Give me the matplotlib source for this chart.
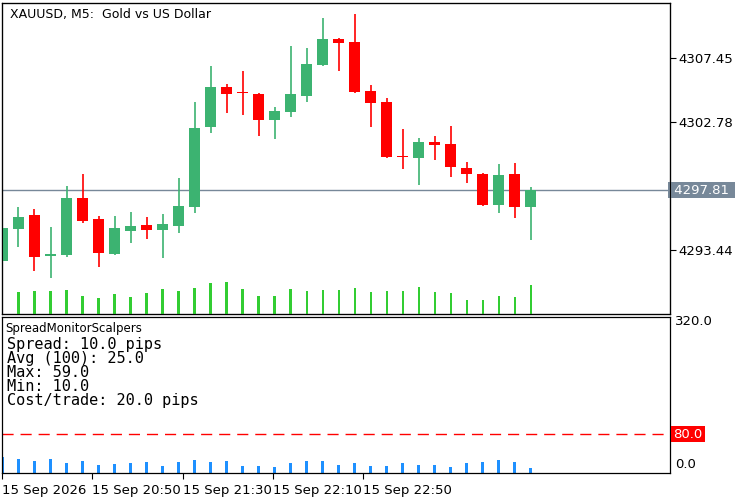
import matplotlib
matplotlib.use("Agg")
import matplotlib.pyplot as plt
import numpy as np

opens  = [4292.63,4294.96,4295.98,4292.99,4293.06,4297.23,4295.69,4293.14,4294.82,4295.25,4294.89,4295.18,4296.57,4302.41,4305.33,4304.89,4304.82,4302.92,4303.50,4304.67,4306.94,4308.83,4308.61,4305.04,4304.23,4300.29,4300.15,4301.31,4301.17,4299.42,4298.98,4296.71,4298.98,4296.57]
closes = [4295.04,4295.84,4292.92,4293.14,4297.23,4295.55,4293.21,4295.04,4295.18,4294.89,4295.33,4296.64,4302.34,4305.33,4304.82,4304.87,4302.92,4303.58,4304.82,4307.01,4308.83,4308.54,4304.96,4304.16,4300.22,4300.22,4301.31,4301.10,4299.49,4298.98,4296.71,4298.91,4296.57,4297.81]
highs  = [4295.04,4296.57,4296.42,4295.11,4298.10,4298.98,4295.91,4295.91,4296.20,4295.84,4296.06,4298.69,4304.23,4306.86,4305.55,4306.50,4304.90,4303.87,4308.32,4308.18,4310.37,4308.90,4310.66,4305.48,4304.53,4302.26,4301.61,4301.75,4302.48,4299.85,4299.05,4299.71,4299.78,4298.03]
lows   = [4292.63,4293.65,4291.90,4291.39,4292.95,4295.40,4292.19,4293.06,4293.94,4294.23,4292.85,4294.67,4296.13,4301.97,4303.43,4303.29,4301.75,4301.53,4303.14,4304.23,4306.87,4306.50,4304.89,4302.41,4300.15,4299.34,4298.18,4300.00,4298.76,4298.32,4296.64,4296.13,4295.77,4294.16]
volumes = [0,22,23,23,24,18,16,20,17,21,25,23,26,31,32,25,18,18,25,23,24,24,26,22,23,23,27,22,21,14,14,18,17,29]
spreads = [33,29,25,29,21,25,17,19,21,23,15,23,27,23,25,15,15,13,21,25,25,17,21,15,15,21,17,17,13,21,23,27,23,11]
price_ticks = [4307.45, 4302.78, 4293.44]
last_price = 4297.81
time_labels = ["15 Sep 2026", "15 Sep 20:50", "15 Sep 21:30", "15 Sep 22:10", "15 Sep 22:50"]
time_pos = [0.0, 5.6, 11.25, 16.9, 22.5]
info_lines = ["Spread: 10.0 pips", "Avg (100): 25.0", "Max: 59.0", "Min: 10.0", "Cost/trade: 20.0 pips"]

GREEN = "#3cb371"; RED = "#ff0000"
fig = plt.figure(figsize=(7.5, 5), dpi=100)
W, H = 750, 500
def rect(l, t, r, b):
    return [l / W, 1 - b / H, (r - l) / W, (b - t) / H]

xl = (-0.03, 41.7)
ax = fig.add_axes(rect(2, 3, 670, 314))
n = len(opens)
x = np.arange(n)
vax = ax.twinx()
vax.bar(x, volumes, width=0.14, color="#32cd32", zorder=1)
vax.set_ylim(0, 311)
vax.set_yticks([])
vax.set_xlim(*xl)
for i in range(n):
    c = GREEN if closes[i] >= opens[i] else RED
    ax.vlines(x[i], lows[i], highs[i], color=c, lw=1.2, zorder=2)
    lo, hi = sorted([opens[i], closes[i]])
    ax.bar(x[i], max(hi - lo, 0.08), bottom=lo, width=0.69, color=c, zorder=3)
ax.axhline(last_price, color="#778899", lw=1, zorder=1)
ax.set_xlim(*xl)
ax.set_ylim(4288.76, 4311.46)
ax.yaxis.tick_right()
ax.yaxis.set_label_position("right")
ax.set_yticks(price_ticks)
ax.set_yticklabels([f"{v:.2f}" for v in price_ticks], fontsize=9.5)
ax.tick_params(axis="y", which="both", left=False, labelleft=False, right=True,
               labelright=True, direction="out", length=4, pad=2)
ax.set_xticks([])
ax.text(0.012, 0.985, "XAUUSD, M5:  Gold vs US Dollar", transform=ax.transAxes,
        fontsize=9, va="top", ha="left")
ax.text(1.0, last_price, f" {last_price:.2f} ", transform=ax.get_yaxis_transform(),
        fontsize=9.5, color="white", va="center", ha="left",
        bbox=dict(boxstyle="square,pad=0.15", fc="#778899", ec="none"))

bx = fig.add_axes(rect(2, 317, 670, 473))
bx.bar(x, spreads, width=0.2, color="#1e90ff")
bx.axhline(80, color=RED, lw=1, dashes=(8, 5))
bx.set_xlim(*xl)
bx.set_ylim(0, 320)
bx.yaxis.tick_right()
bx.set_yticks([])
tr = bx.get_yaxis_transform()
bx.text(1.008, 311, "320.0", transform=tr, fontsize=9.5, va="center", ha="left")
bx.text(1.008, 18, "0.0", transform=tr, fontsize=9.5, va="center", ha="left")
bx.text(1.005, 80, "80.0", transform=tr, fontsize=9.5, va="center", ha="left", color="white",
        bbox=dict(boxstyle="square,pad=0.15", fc=RED, ec="none"))
bx.set_xticks(time_pos)
bx.set_xticklabels(time_labels, fontsize=9.5, ha="left")
bx.tick_params(axis="x", direction="out", length=4, pad=4)
bx.text(0.005, 0.97, "SpreadMonitorScalpers", transform=bx.transAxes, fontsize=8.5, va="top")
bx.text(0.007, 0.87, "\n".join(info_lines), transform=bx.transAxes, fontsize=11,
        family="DejaVu Sans Mono", va="top", linespacing=0.92)
for a in (ax, bx):
    for s in a.spines.values():
        s.set_linewidth(0.9)
fig.savefig("out.png", dpi=100)
